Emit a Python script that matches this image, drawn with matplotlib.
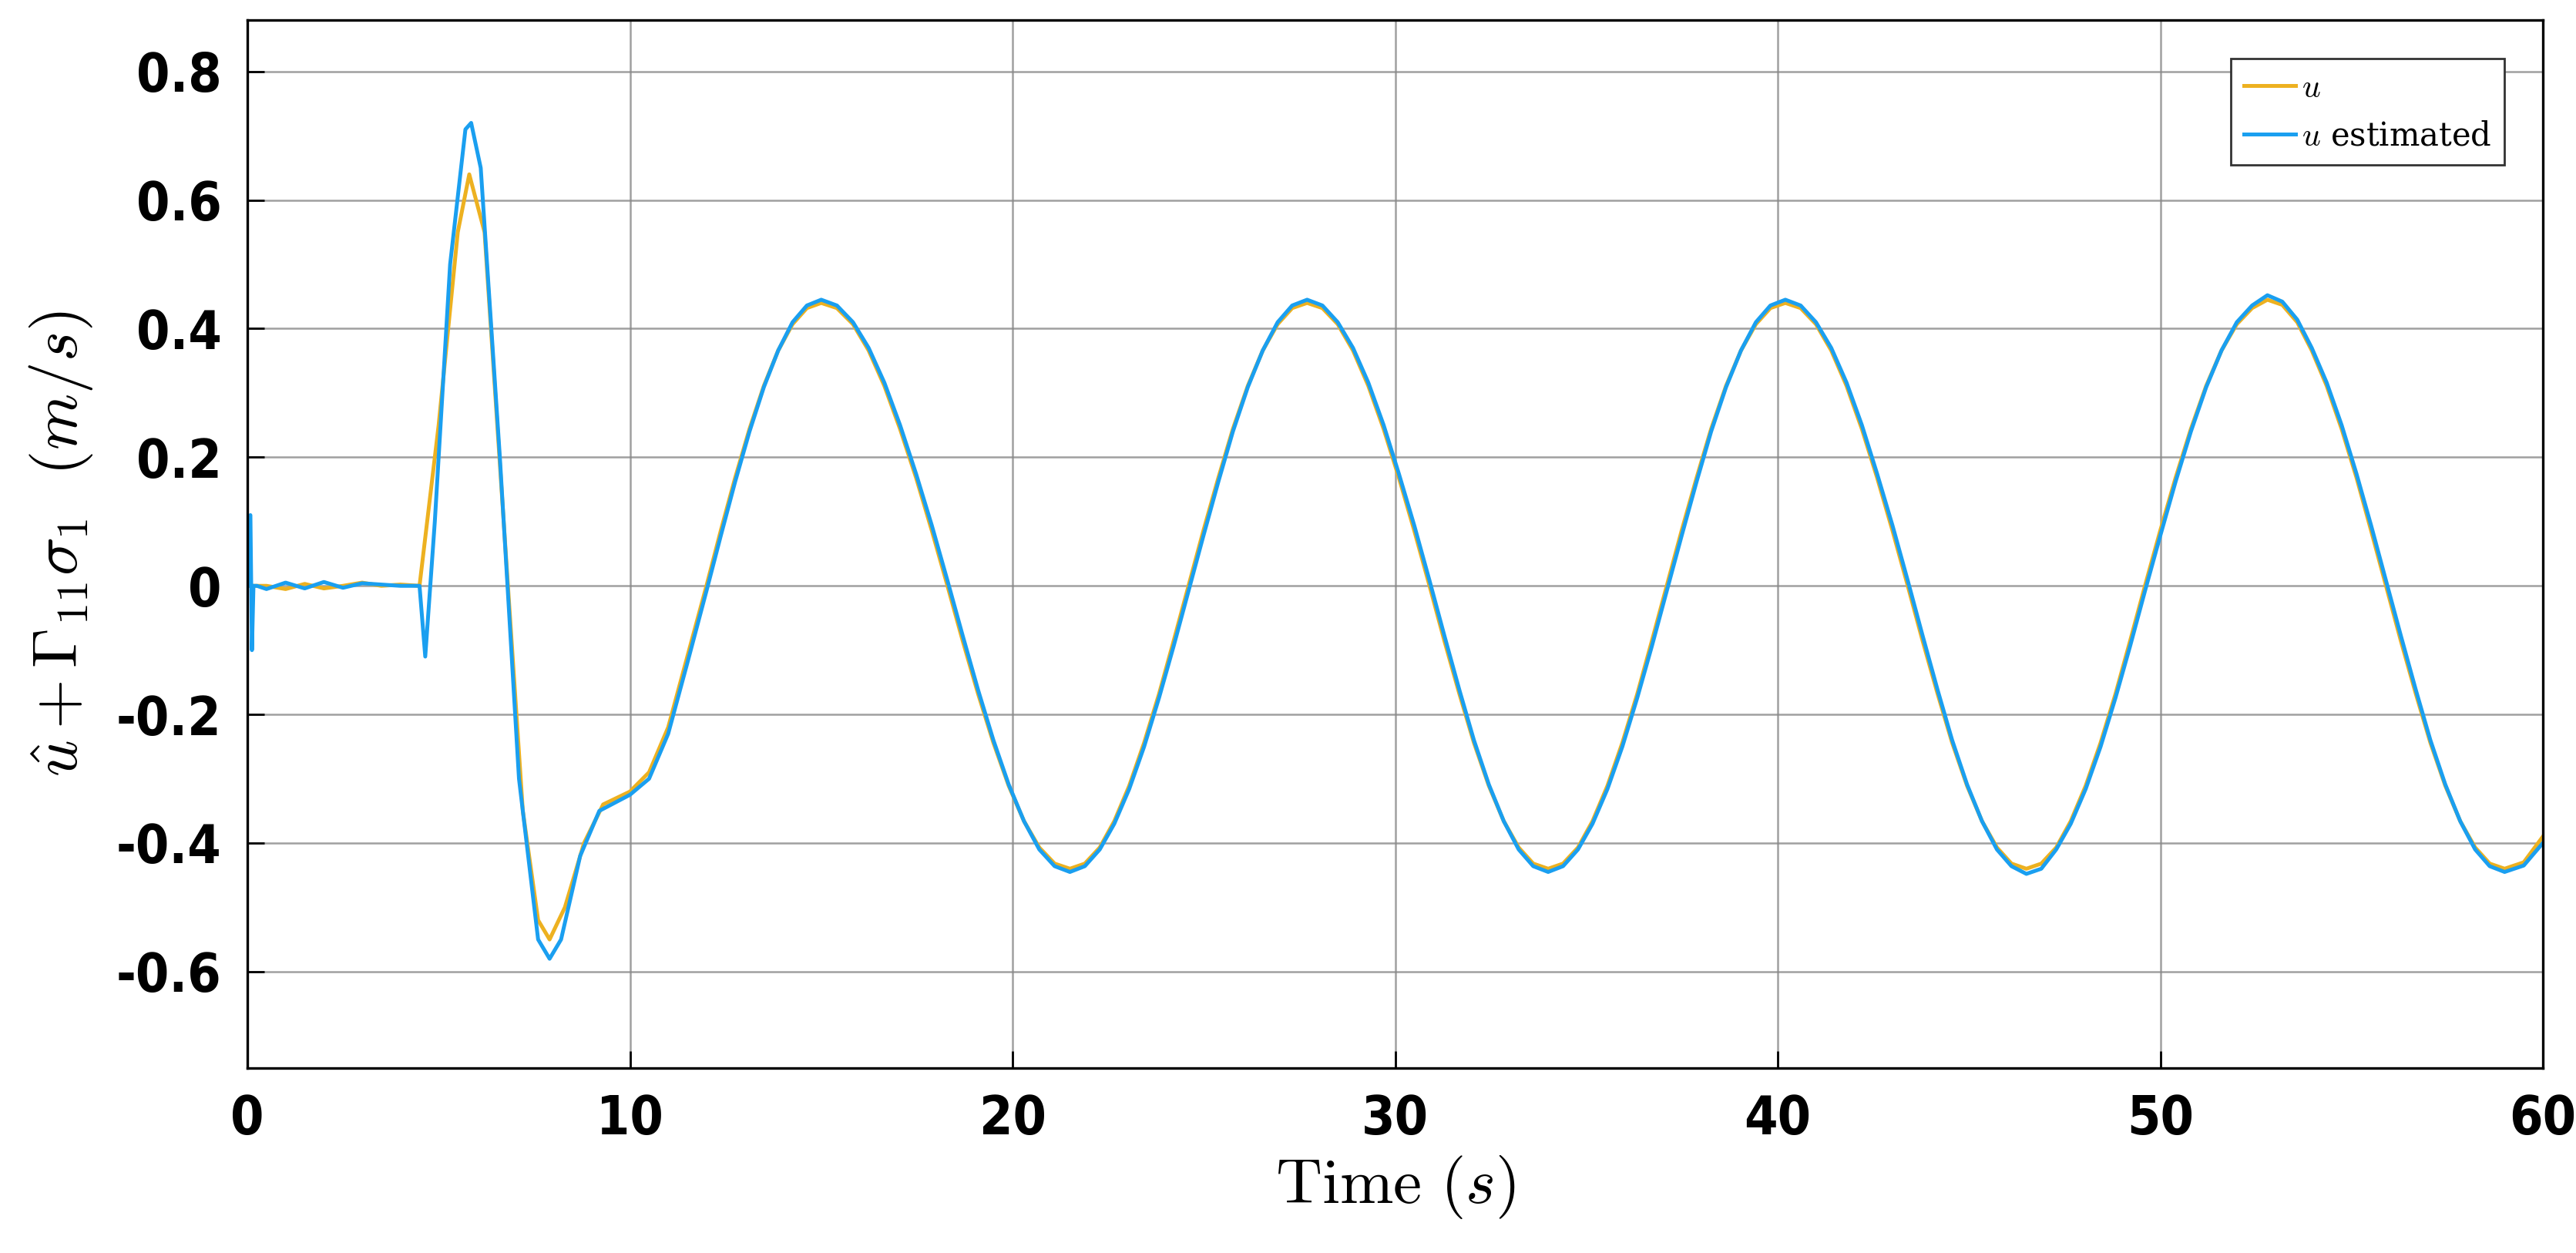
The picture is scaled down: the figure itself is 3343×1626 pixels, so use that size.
import matplotlib
matplotlib.use("Agg")
import matplotlib.pyplot as plt

t_start = [0.0, 0.5, 1.0, 1.5, 2.0, 2.5, 3.0, 3.5, 4.0, 4.5, 5.0, 5.5, 5.8, 6.2, 6.7, 7.2, 7.6, 7.9, 8.3, 8.8, 9.3, 10.0, 10.5, 11.0, 11.5]
u_start = [0.0, 0.0, -0.005, 0.003, -0.004, 0.0, 0.005, 0.0, 0.002, 0.0, 0.25, 0.55, 0.64, 0.55, 0.10, -0.35, -0.52, -0.55, -0.50, -0.40, -0.34, -0.32, -0.29, -0.22, -0.11]

t_est_start = [0.0, 0.08, 0.12, 0.16, 0.25, 0.5, 1.0, 1.5, 2.0, 2.5, 3.0, 3.5, 4.0, 4.5, 4.65, 4.9, 5.3, 5.7, 5.85, 6.1, 6.6, 7.1, 7.6, 7.9, 8.2, 8.7, 9.2, 10.0, 10.5, 11.0, 11.5]
u_est_start = [0.0, 0.11, -0.10, 0.0, 0.0, -0.005, 0.005, -0.004, 0.006, -0.003, 0.004, 0.002, 0.0, 0.0, -0.11, 0.10, 0.50, 0.71, 0.72, 0.65, 0.20, -0.30, -0.55, -0.58, -0.55, -0.42, -0.35, -0.325, -0.30, -0.23, -0.12]

t_cycle = [12.0,12.375,12.75,13.125,13.5,13.875,14.25,14.625,
           15.0,15.41,15.83,16.24,16.65,17.06,17.48,17.89,
           18.3,18.7,19.1,19.5,19.9,20.3,20.7,21.1,
           21.5,21.89,22.28,22.66,23.05,23.44,23.83,24.21,
           24.6,24.99,25.38,25.76,26.15,26.54,26.93,27.31,
           27.7,28.1,28.5,28.9,29.3,29.7,30.1,30.5,
           30.9,31.29,31.68,32.06,32.45,32.84,33.23,33.61,
           34.0,34.39,34.78,35.16,35.55,35.94,36.33,36.71,
           37.1,37.49,37.88,38.26,38.65,39.04,39.43,39.81,
           40.2,40.6,41.0,41.4,41.8,42.2,42.6,43.0,
           43.4,43.79,44.18,44.56,44.95,45.34,45.73,46.11,
           46.5,46.89,47.28,47.66,48.05,48.44,48.83,49.21,
           49.6,50.0,50.4,50.8,51.2,51.6,52.0,52.4,
           52.8,53.19,53.58,53.96,54.35,54.74,55.13,55.51,
           55.9,56.29,56.68,57.06,57.45,57.84,58.23,58.61,
           59.0,59.5,60.0]
u_cycle = [0.0,0.086,0.168,0.244,0.311,0.366,0.407,0.432,
           0.44,0.432,0.407,0.366,0.311,0.244,0.168,0.086,
           0.0,-0.086,-0.168,-0.244,-0.311,-0.366,-0.407,-0.432,
           -0.44,-0.432,-0.407,-0.366,-0.311,-0.244,-0.168,-0.086,
           0.0,0.086,0.168,0.244,0.311,0.366,0.407,0.432,
           0.44,0.432,0.407,0.366,0.311,0.244,0.168,0.086,
           0.0,-0.086,-0.168,-0.244,-0.311,-0.366,-0.407,-0.432,
           -0.44,-0.432,-0.407,-0.366,-0.311,-0.244,-0.168,-0.086,
           0.0,0.086,0.168,0.244,0.311,0.366,0.407,0.432,
           0.44,0.432,0.407,0.366,0.311,0.244,0.168,0.086,
           0.0,-0.086,-0.168,-0.244,-0.311,-0.366,-0.407,-0.432,
           -0.44,-0.432,-0.407,-0.366,-0.311,-0.244,-0.168,-0.086,
           0.0,0.086,0.168,0.244,0.311,0.366,0.407,0.432,
           0.445,0.437,0.41,0.366,0.311,0.244,0.168,0.086,
           0.0,-0.086,-0.168,-0.244,-0.311,-0.366,-0.407,-0.432,
           -0.44,-0.43,-0.39]
u_est_cycle = [-0.008,0.078,0.162,0.24,0.309,0.366,0.41,0.436,
               0.445,0.436,0.41,0.37,0.316,0.25,0.174,0.094,
               0.008,-0.078,-0.162,-0.24,-0.309,-0.366,-0.41,-0.436,
               -0.445,-0.436,-0.41,-0.37,-0.316,-0.25,-0.174,-0.094,
               -0.008,0.078,0.162,0.24,0.309,0.366,0.41,0.436,
               0.445,0.436,0.41,0.37,0.316,0.25,0.174,0.094,
               0.008,-0.078,-0.162,-0.24,-0.309,-0.366,-0.41,-0.436,
               -0.445,-0.436,-0.41,-0.37,-0.316,-0.25,-0.174,-0.094,
               -0.008,0.078,0.162,0.24,0.309,0.366,0.41,0.436,
               0.445,0.436,0.41,0.37,0.316,0.25,0.174,0.094,
               0.008,-0.078,-0.162,-0.24,-0.309,-0.366,-0.41,-0.436,
               -0.448,-0.44,-0.41,-0.37,-0.316,-0.25,-0.174,-0.094,
               -0.008,0.078,0.162,0.24,0.309,0.366,0.41,0.436,
               0.452,0.442,0.414,0.37,0.316,0.25,0.174,0.094,
               0.008,-0.078,-0.162,-0.24,-0.309,-0.366,-0.41,-0.436,
               -0.445,-0.435,-0.40]

xticks = [0, 10, 20, 30, 40, 50, 60]
yticks = [-0.6, -0.4, -0.2, 0, 0.2, 0.4, 0.6, 0.8]
ytick_labels = ["-0.6", "-0.4", "-0.2", "0", "0.2", "0.4", "0.6", "0.8"]

plt.rcParams['mathtext.fontset'] = 'cm'

fig = plt.figure(figsize=(16.715, 8.13), dpi=200)
ax = fig.add_axes([321/3343, 1-1386/1626, (3300-321)/3343, (1386-26)/1626])
ax.plot(t_start + t_cycle, u_start + u_cycle, color="#EDB120", lw=1.8, label=r"$u$")
ax.plot(t_est_start + t_cycle, u_est_start + u_est_cycle, color="#1A9FF0", lw=1.8, label=r"$u$ estimated")
ax.set_xlim(0, 60)
ax.set_ylim(-0.75, 0.88)
ax.set_xticks(xticks)
ax.set_yticks(yticks)
ax.set_yticklabels(ytick_labels)
for lab in ax.get_xticklabels() + ax.get_yticklabels():
    lab.set_fontfamily("DejaVu Sans")
    lab.set_fontstretch("condensed")
    lab.set_fontweight("bold")
    lab.set_fontsize(25)
ax.tick_params(direction="in", length=8, width=1, pad=12)
ax.grid(True, color="#888888", lw=0.9, alpha=0.8)
for s in ax.spines.values():
    s.set_linewidth(1.2)
ax.set_xlabel(r"$\mathrm{Time}\ (s)$", fontsize=30, labelpad=4)
ax.set_ylabel(r"$\hat{u}+\Gamma_{11}\sigma_1\ \ (m/s)$", fontsize=30, labelpad=10)
leg = ax.legend(loc="upper right", prop={"family": "DejaVu Serif", "size": 15}, frameon=True, fancybox=False,
                edgecolor="#333333", framealpha=1, handlelength=1.6, handletextpad=0.2,
                borderaxespad=1.2)
leg.get_frame().set_linewidth(1.0)
fig.savefig("out.png", dpi=200)
